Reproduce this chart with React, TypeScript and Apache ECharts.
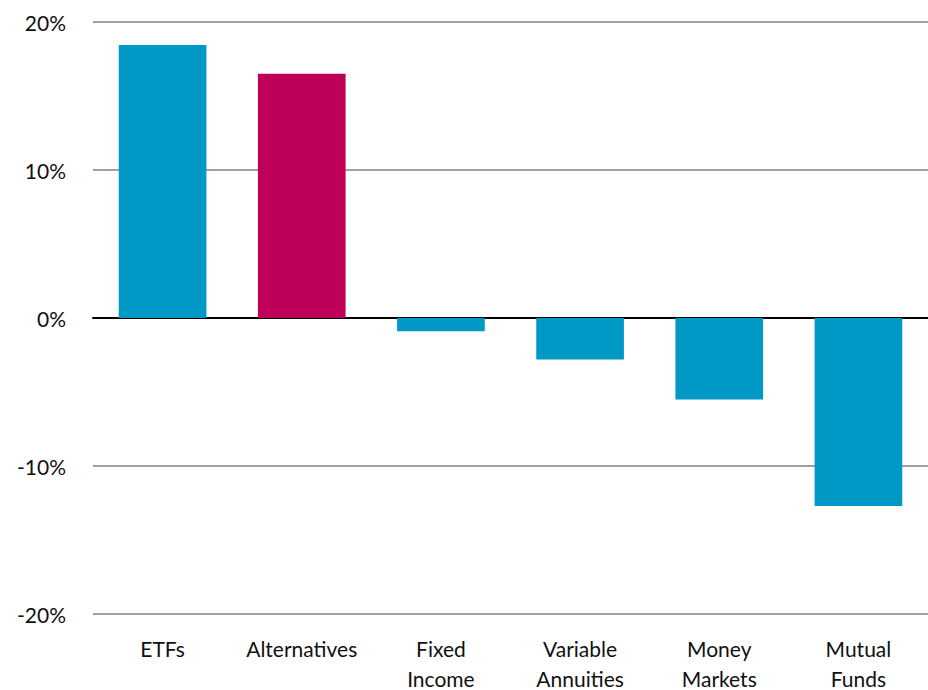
import React, { useEffect, useRef } from "react";
import * as echarts from "echarts";

const categories = ["ETFs", "Alternatives", "Fixed\nIncome", "Variable\nAnnuities", "Money\nMarkets", "Mutual\nFunds"];
const values = [18.45, 16.5, -0.9, -2.8, -5.5, -12.7];
const barColors = ["#0099C6", "#BE0059", "#0099C6", "#0099C6", "#0099C6", "#0099C6"];
const yTicks = { min: -20, max: 20, interval: 10 };

export default function App() {
  const ref = useRef<HTMLDivElement>(null);
  useEffect(() => {
    const chart = echarts.init(ref.current!, null, { renderer: "svg" });
    chart.setOption({
      animation: false,
      grid: { left: 93, right: 0, top: 22, bottom: 76, outerBoundsMode: "none", containLabel: false },
      xAxis: {
        type: "category",
        data: categories,
        axisLine: { show: true, onZero: true, lineStyle: { color: "#000", width: 2 } },
        axisTick: { show: false },
        axisLabel: {
          interval: 0,
          hideOverlap: false,
          color: "#111",
          fontFamily: "Lato",
          fontSize: 21,
          lineHeight: 30,
          margin: 19,
        },
      },
      yAxis: {
        type: "value",
        min: yTicks.min,
        max: yTicks.max,
        interval: yTicks.interval,
        axisLine: { show: false },
        axisTick: { show: false },
        splitLine: { lineStyle: { color: "#A0A0A0", width: 2 } },
        axisLabel: {
          formatter: (v: number) => `${v}%`,
          color: "#111",
          fontFamily: "Lato",
          fontSize: 21,
          margin: 27,
        },
      },
      series: [
        {
          type: "bar",
          barWidth: "63%",
          data: values.map((v, i) => ({ value: v, itemStyle: { color: barColors[i] } })),
        },
      ],
    });
    return () => chart.dispose();
  }, []);
  return <div ref={ref} style={{ width: 928, height: 690, position: "absolute", left: 0, top: 0 }} />;
}
